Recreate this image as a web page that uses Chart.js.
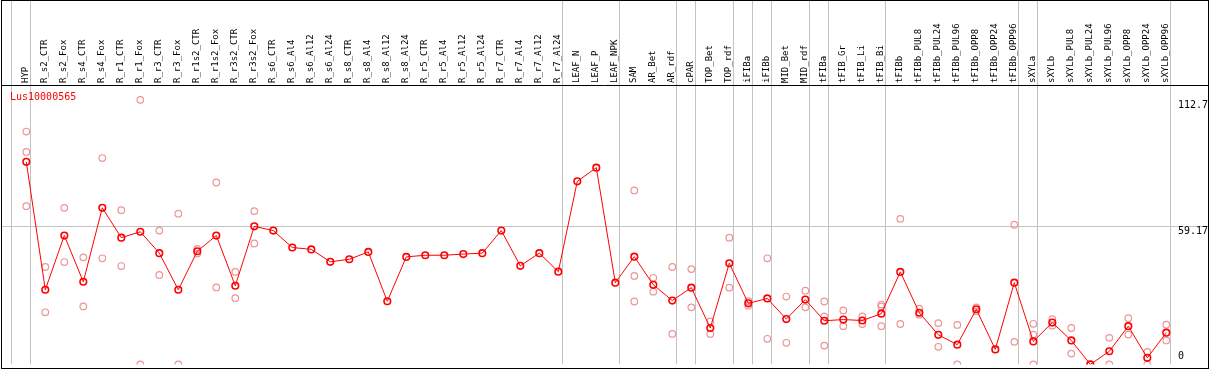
<!DOCTYPE html>
<html>
<head>
<meta charset="utf-8">
<script src="https://cdn.jsdelivr.net/npm/chart.js@4"></script>
<style>
  html, body { margin: 0; padding: 0; background: #fff; }
  #wrap { width: 1209px; height: 370px; position: relative; }
</style>
</head>
<body>
<div id="wrap"><canvas id="c"></canvas></div>
<script>
const geneName = 'Lus10000565';

const categories = [
  'HYP', 'R_s2_CTR', 'R_s2_Fox', 'R_s4_CTR', 'R_s4_Fox', 'R_r1_CTR', 'R_r1_Fox', 'R_r3_CTR', 'R_r3_Fox',
  'R_r1s2_CTR', 'R_r1s2_Fox', 'R_r3s2_CTR', 'R_r3s2_Fox', 'R_s6_CTR', 'R_s6_Al4', 'R_s6_Al12', 'R_s6_Al24',
  'R_s8_CTR', 'R_s8_Al4', 'R_s8_Al12', 'R_s8_Al24', 'R_r5_CTR', 'R_r5_Al4', 'R_r5_Al12', 'R_r5_Al24',
  'R_r7_CTR', 'R_r7_Al4', 'R_r7_Al12', 'R_r7_Al24', 'LEAF_N', 'LEAF_P', 'LEAF_NPK', 'SAM', 'AR_Bet', 'AR_rdf',
  'cPAR', 'TOP_Bet', 'TOP_rdf', 'iFIBa', 'iFIBb', 'MID_Bet', 'MID_rdf', 'tFIBa', 'tFIB_Gr', 'tFIB_Li', 'tFIB_Bi',
  'tFIBb', 'tFIBb_PUL8', 'tFIBb_PUL24', 'tFIBb_PUL96', 'tFIBb_OPP8', 'tFIBb_OPP24', 'tFIBb_OPP96',
  'sXYLa', 'sXYLb', 'sXYLb_PUL8', 'sXYLb_PUL24', 'sXYLb_PUL96', 'sXYLb_OPP8', 'sXYLb_OPP24', 'sXYLb_OPP96'
];

const meanValues = [
  86.3, 31.8, 54.9, 35.2, 66.7, 54.0, 56.5, 47.4, 31.8,
  48.2, 54.9, 33.5, 58.8, 57.0, 49.8, 49.0, 43.7,
  44.8, 47.9, 26.9, 45.8, 46.5, 46.5, 47.0, 47.4,
  57.0, 42.0, 47.4, 39.5, 78.0, 83.8, 34.8, 45.9, 33.9, 27.2,
  32.7, 15.5, 43.1, 26.0, 28.1, 19.3, 27.6, 18.6, 19.1, 18.7, 21.6,
  39.4, 22.0, 12.6, 8.4, 23.5, 6.4, 34.8,
  9.8, 17.8, 10.2, 0, 5.6, 16.3, 2.8, 13.5
];

const replicateValues = [
  [99.2, 90.5, 67.4], [41.5, 22.2], [66.7, 43.6], [45.6, 24.7], [87.9, 45.2], [65.7, 41.9], [112.7, 0], [57.0, 38.1], [64.2, 0],
  [49.2, 47.2], [77.5, 32.8], [39.4, 28.2], [65.3, 51.5], [], [], [], [],
  [], [], [], [], [], [], [], [],
  [], [], [], [], [], [], [], [74.1, 37.7, 26.8], [36.9, 31.0], [41.5, 13.0],
  [40.6, 24.3], [18.3, 13.0], [54.0, 32.7], [26.9, 25.0], [45.2, 10.9], [28.9, 9.2], [31.4, 24.3], [26.8, 20.4, 8.0], [23.0, 16.3], [20.4, 17.2], [25.5, 24.7, 16.3],
  [62.0, 17.2], [23.7, 21.2], [17.6, 7.5], [16.8, 0], [24.3, 22.6], [], [59.5, 9.6],
  [17.3, 12.7, 0], [19.3, 16.5], [15.5, 4.6], [0], [11.3, 0], [19.7, 12.7], [5.3, 0], [16.9, 10.2]
];

const yTickValues = [0, 59.17, 112.7];
const yAxisMax = 118.6;
// indices of the last category of each group (separator drawn after it)
const groupEnds = [-1, 0, 28, 31, 34, 35, 37, 38, 39, 41, 42, 45, 52, 53, 60];

const replicatePoints = [];
replicateValues.forEach((reps, i) => reps.forEach(v => replicatePoints.push({ x: categories[i], y: v })));

const MONO = '"DejaVu Sans Mono", "Liberation Mono", monospace';

const decorPlugin = {
  id: 'decor',
  beforeDatasetsDraw(chart) {
    const { ctx, chartArea, scales: { x, y } } = chart;
    ctx.save();
    ctx.strokeStyle = '#c3c3c3';
    ctx.lineWidth = 1;
    const base = x.getPixelForValue(0);
    const step = x.getPixelForValue(1) - base;
    groupEnds.forEach(i => {
      const px = Math.round(base + (i + 0.2) * step) + 0.5;
      ctx.beginPath();
      ctx.moveTo(px, 0);
      ctx.lineTo(px, chartArea.bottom);
      ctx.stroke();
    });
    const gy = Math.round(y.getPixelForValue(yTickValues[1])) + 0.5;
    ctx.beginPath();
    ctx.moveTo(1, gy);
    ctx.lineTo(1208, gy);
    ctx.stroke();
    ctx.restore();
  },
  afterDraw(chart) {
    const { ctx, chartArea, scales: { y } } = chart;
    ctx.save();
    ctx.strokeStyle = '#000';
    ctx.lineWidth = 1;
    ctx.strokeRect(1.5, 0.5, 1207, 368);
    ctx.beginPath();
    ctx.moveTo(1, chartArea.top - 0.5);
    ctx.lineTo(1208, chartArea.top - 0.5);
    ctx.stroke();

    ctx.font = '10px ' + MONO;
    ctx.fillStyle = '#000';
    ctx.textAlign = 'left';
    ctx.textBaseline = 'middle';
    yTickValues.forEach(v => {
      const py = Math.min(y.getPixelForValue(v) + 5.5, chartArea.bottom - 7.5);
      ctx.fillText(String(v), 1178, py);
    });

    ctx.fillStyle = '#ff0000';
    ctx.fillText(geneName, 10, chartArea.top + 11.5);
    ctx.restore();
  }
};

new Chart(document.getElementById('c'), {
  type: 'line',
  data: {
    labels: categories,
    datasets: [
      {
        label: 'mean',
        data: meanValues,
        borderColor: '#ff0000',
        borderWidth: 1,
        pointStyle: 'circle',
        pointRadius: 3.3,
        pointBorderWidth: 1.6,
        pointBorderColor: '#ff0000',
        pointBackgroundColor: 'rgba(0,0,0,0)',
        tension: 0,
        fill: false
      },
      {
        label: 'replicates',
        data: replicatePoints,
        showLine: false,
        pointStyle: 'circle',
        pointRadius: 3.3,
        pointBorderWidth: 1.2,
        pointBorderColor: 'rgb(238,150,150)',
        pointBackgroundColor: 'rgba(0,0,0,0)',
        borderColor: 'rgb(238,150,150)'
      }
    ]
  },
  options: {
    responsive: true,
    maintainAspectRatio: false,
    animation: false,
    events: [],
    layout: { padding: { left: 26.3, right: 0, top: 0, bottom: 1 } },
    plugins: { legend: { display: false }, tooltip: { enabled: false }, title: { display: false } },
    scales: {
      x: {
        type: 'category',
        position: 'top',
        offset: false,
        grid: { display: false, drawTicks: false },
        border: { display: false },
        ticks: {
          autoSkip: false,
          minRotation: 90,
          maxRotation: 90,
          padding: 3,
          labelOffset: 10.5,
          color: '#000',
          font: { family: MONO, size: 9 }
        },
        afterFit(s) { s.height = 86; }
      },
      y: {
        type: 'linear',
        position: 'right',
        min: 0,
        max: yAxisMax,
        grid: { display: false, drawTicks: false },
        border: { display: false },
        ticks: { display: false },
        afterBuildTicks(s) { s.ticks = yTickValues.map(v => ({ value: v })); },
        afterFit(s) { s.width = 42.7; }
      }
    }
  },
  plugins: [decorPlugin]
});
</script>
</body>
</html>
